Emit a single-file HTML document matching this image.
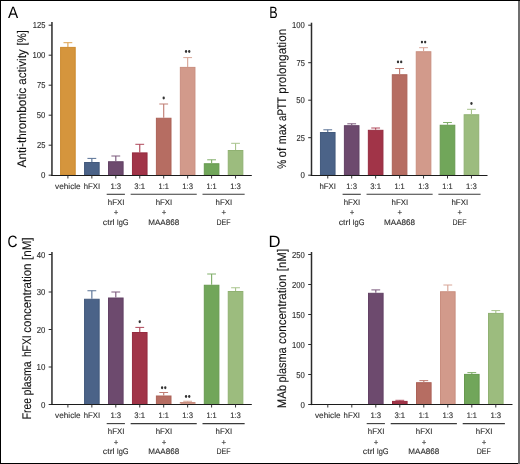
<!DOCTYPE html>
<html><head><meta charset="utf-8"><title>Figure</title>
<style>
html,body{margin:0;padding:0;background:#fff;width:520px;height:464px;overflow:hidden;}
svg{display:block;will-change:transform;}
text{font-family:"Liberation Sans",sans-serif;text-rendering:geometricPrecision;}
</style></head><body>
<svg width="520" height="464" viewBox="0 0 520 464">
<rect x="0" y="0" width="520" height="464" fill="#fff"/>
<line x1="51.95" y1="22.00" x2="51.95" y2="175.80" stroke="#2b2b2b" stroke-width="1.5"/>
<line x1="48.65" y1="25.20" x2="51.95" y2="25.20" stroke="#2b2b2b" stroke-width="1"/>
<text x="45.40" y="28.20" font-size="8.7" text-anchor="end" fill="#303030" stroke="#303030" stroke-width="0.12" textLength="12.6" lengthAdjust="spacingAndGlyphs">125</text>
<line x1="48.65" y1="55.20" x2="51.95" y2="55.20" stroke="#2b2b2b" stroke-width="1"/>
<text x="45.40" y="58.20" font-size="8.7" text-anchor="end" fill="#303030" stroke="#303030" stroke-width="0.12" textLength="13.0" lengthAdjust="spacingAndGlyphs">100</text>
<line x1="48.65" y1="85.20" x2="51.95" y2="85.20" stroke="#2b2b2b" stroke-width="1"/>
<text x="45.40" y="88.20" font-size="8.7" text-anchor="end" fill="#303030" stroke="#303030" stroke-width="0.12" textLength="8.4" lengthAdjust="spacingAndGlyphs">75</text>
<line x1="48.65" y1="115.20" x2="51.95" y2="115.20" stroke="#2b2b2b" stroke-width="1"/>
<text x="45.40" y="118.20" font-size="8.7" text-anchor="end" fill="#303030" stroke="#303030" stroke-width="0.12" textLength="8.6" lengthAdjust="spacingAndGlyphs">50</text>
<line x1="48.65" y1="145.20" x2="51.95" y2="145.20" stroke="#2b2b2b" stroke-width="1"/>
<text x="45.40" y="148.20" font-size="8.7" text-anchor="end" fill="#303030" stroke="#303030" stroke-width="0.12" textLength="8.4" lengthAdjust="spacingAndGlyphs">25</text>
<line x1="48.65" y1="175.20" x2="51.95" y2="175.20" stroke="#2b2b2b" stroke-width="1"/>
<text x="45.40" y="178.20" font-size="8.7" text-anchor="end" fill="#303030" stroke="#303030" stroke-width="0.12" textLength="4.4" lengthAdjust="spacingAndGlyphs">0</text>
<rect x="60.60" y="47.40" width="14.60" height="127.80" fill="#D5953D" stroke="#CC8A30" stroke-width="1"/>
<line x1="67.90" y1="42.70" x2="67.90" y2="46.90" stroke="#DDA250" stroke-width="1.15"/>
<line x1="63.50" y1="42.70" x2="72.30" y2="42.70" stroke="#DDA250" stroke-width="1.0"/>
<rect x="84.55" y="162.50" width="14.60" height="12.70" fill="#4B6388" stroke="#435A7D" stroke-width="1"/>
<line x1="91.85" y1="158.40" x2="91.85" y2="162.00" stroke="#5A7396" stroke-width="1.15"/>
<line x1="87.45" y1="158.40" x2="96.25" y2="158.40" stroke="#5A7396" stroke-width="1.0"/>
<rect x="108.50" y="161.75" width="14.60" height="13.45" fill="#6D4A6E" stroke="#634265" stroke-width="1"/>
<line x1="115.80" y1="156.00" x2="115.80" y2="161.25" stroke="#7C5A7D" stroke-width="1.15"/>
<line x1="111.40" y1="156.00" x2="120.20" y2="156.00" stroke="#7C5A7D" stroke-width="1.0"/>
<rect x="132.45" y="152.90" width="14.60" height="22.30" fill="#A13448" stroke="#962C40" stroke-width="1"/>
<line x1="139.75" y1="144.30" x2="139.75" y2="152.40" stroke="#B0485A" stroke-width="1.15"/>
<line x1="135.35" y1="144.30" x2="144.15" y2="144.30" stroke="#B0485A" stroke-width="1.0"/>
<rect x="156.40" y="118.25" width="14.60" height="56.95" fill="#B66D62" stroke="#AC6257" stroke-width="1"/>
<line x1="163.70" y1="104.00" x2="163.70" y2="117.75" stroke="#C07E74" stroke-width="1.15"/>
<line x1="159.30" y1="104.00" x2="168.10" y2="104.00" stroke="#C07E74" stroke-width="1.0"/>
<rect x="180.35" y="67.40" width="14.60" height="107.80" fill="#D29A8B" stroke="#C98E7F" stroke-width="1"/>
<line x1="187.65" y1="57.60" x2="187.65" y2="66.90" stroke="#D8A698" stroke-width="1.15"/>
<line x1="183.25" y1="57.60" x2="192.05" y2="57.60" stroke="#D8A698" stroke-width="1.0"/>
<rect x="204.30" y="163.75" width="14.60" height="11.45" fill="#71A65A" stroke="#67994F" stroke-width="1"/>
<line x1="211.60" y1="159.80" x2="211.60" y2="163.25" stroke="#82B06C" stroke-width="1.15"/>
<line x1="207.20" y1="159.80" x2="216.00" y2="159.80" stroke="#82B06C" stroke-width="1.0"/>
<rect x="228.25" y="150.50" width="14.60" height="24.70" fill="#9CBC7E" stroke="#90B172" stroke-width="1"/>
<line x1="235.55" y1="143.30" x2="235.55" y2="150.00" stroke="#A8C48C" stroke-width="1.15"/>
<line x1="231.15" y1="143.30" x2="239.95" y2="143.30" stroke="#A8C48C" stroke-width="1.0"/>
<line x1="51.20" y1="175.50" x2="251.80" y2="175.50" stroke="#1c1c1c" stroke-width="1.1"/>
<line x1="67.90" y1="175.50" x2="67.90" y2="178.50" stroke="#333" stroke-width="1"/>
<line x1="91.85" y1="175.50" x2="91.85" y2="178.50" stroke="#333" stroke-width="1"/>
<line x1="115.80" y1="175.50" x2="115.80" y2="178.50" stroke="#333" stroke-width="1"/>
<line x1="139.75" y1="175.50" x2="139.75" y2="178.50" stroke="#333" stroke-width="1"/>
<line x1="163.70" y1="175.50" x2="163.70" y2="178.50" stroke="#333" stroke-width="1"/>
<line x1="187.65" y1="175.50" x2="187.65" y2="178.50" stroke="#333" stroke-width="1"/>
<line x1="211.60" y1="175.50" x2="211.60" y2="178.50" stroke="#333" stroke-width="1"/>
<line x1="235.55" y1="175.50" x2="235.55" y2="178.50" stroke="#333" stroke-width="1"/>
<ellipse cx="163.70" cy="98.00" rx="1.15" ry="1.45" fill="#333"/>
<ellipse cx="186.05" cy="51.50" rx="1.15" ry="1.45" fill="#333"/>
<ellipse cx="189.25" cy="51.50" rx="1.15" ry="1.45" fill="#333"/>
<text x="67.90" y="189.00" font-size="8.1" text-anchor="middle" fill="#303030" stroke="#303030" stroke-width="0.12" textLength="25.6" lengthAdjust="spacingAndGlyphs">vehicle</text>
<text x="91.85" y="189.00" font-size="8.1" text-anchor="middle" fill="#303030" stroke="#303030" stroke-width="0.12" textLength="16.4" lengthAdjust="spacingAndGlyphs">hFXI</text>
<text x="115.80" y="189.00" font-size="8.1" text-anchor="middle" fill="#303030" stroke="#303030" stroke-width="0.12" textLength="10.8" lengthAdjust="spacingAndGlyphs">1:3</text>
<text x="139.75" y="189.00" font-size="8.1" text-anchor="middle" fill="#303030" stroke="#303030" stroke-width="0.12" textLength="10.8" lengthAdjust="spacingAndGlyphs">3:1</text>
<text x="163.70" y="189.00" font-size="8.1" text-anchor="middle" fill="#303030" stroke="#303030" stroke-width="0.12" textLength="10.3" lengthAdjust="spacingAndGlyphs">1:1</text>
<text x="187.65" y="189.00" font-size="8.1" text-anchor="middle" fill="#303030" stroke="#303030" stroke-width="0.12" textLength="10.8" lengthAdjust="spacingAndGlyphs">1:3</text>
<text x="211.60" y="189.00" font-size="8.1" text-anchor="middle" fill="#303030" stroke="#303030" stroke-width="0.12" textLength="10.3" lengthAdjust="spacingAndGlyphs">1:1</text>
<text x="235.55" y="189.00" font-size="8.1" text-anchor="middle" fill="#303030" stroke="#303030" stroke-width="0.12" textLength="10.8" lengthAdjust="spacingAndGlyphs">1:3</text>
<line x1="106.70" y1="194.30" x2="124.90" y2="194.30" stroke="#3a3a3a" stroke-width="1.1"/>
<text x="116.10" y="204.60" font-size="8.1" text-anchor="middle" fill="#303030" stroke="#303030" stroke-width="0.12" textLength="16.6" lengthAdjust="spacingAndGlyphs">hFXI</text>
<text x="116.10" y="214.90" font-size="8.1" text-anchor="middle" fill="#303030" stroke="#303030" stroke-width="0.12" textLength="4.6" lengthAdjust="spacingAndGlyphs">+</text>
<text x="102.80" y="225.10" font-size="8.1" fill="#303030" stroke="#303030" stroke-width="0.12" textLength="11.80" lengthAdjust="spacingAndGlyphs">ctrl</text>
<text x="116.63" y="225.10" font-size="8.1" fill="#303030" stroke="#303030" stroke-width="0.12" textLength="12.01" lengthAdjust="spacingAndGlyphs">IgG</text>
<line x1="130.65" y1="194.30" x2="196.75" y2="194.30" stroke="#3a3a3a" stroke-width="1.1"/>
<text x="164.00" y="204.60" font-size="8.1" text-anchor="middle" fill="#303030" stroke="#303030" stroke-width="0.12" textLength="16.6" lengthAdjust="spacingAndGlyphs">hFXI</text>
<text x="164.00" y="214.90" font-size="8.1" text-anchor="middle" fill="#303030" stroke="#303030" stroke-width="0.12" textLength="4.6" lengthAdjust="spacingAndGlyphs">+</text>
<text x="163.70" y="225.10" font-size="8.1" text-anchor="middle" fill="#303030" stroke="#303030" stroke-width="0.12" textLength="31" lengthAdjust="spacingAndGlyphs">MAA868</text>
<line x1="202.50" y1="194.30" x2="244.65" y2="194.30" stroke="#3a3a3a" stroke-width="1.1"/>
<text x="223.88" y="204.60" font-size="8.1" text-anchor="middle" fill="#303030" stroke="#303030" stroke-width="0.12" textLength="16.6" lengthAdjust="spacingAndGlyphs">hFXI</text>
<text x="223.88" y="214.90" font-size="8.1" text-anchor="middle" fill="#303030" stroke="#303030" stroke-width="0.12" textLength="4.6" lengthAdjust="spacingAndGlyphs">+</text>
<text x="223.57" y="225.10" font-size="8.1" text-anchor="middle" fill="#303030" stroke="#303030" stroke-width="0.12" textLength="14" lengthAdjust="spacingAndGlyphs">DEF</text>
<text transform="translate(26.00,167.40) rotate(-90)" x="-0.06" y="0" font-size="12.5" fill="#111" stroke="#111" stroke-width="0.1" textLength="79.75" lengthAdjust="spacingAndGlyphs">Anti-thrombotic</text>
<text transform="translate(26.00,84.30) rotate(-90)" x="-0.52" y="0" font-size="12.5" fill="#111" stroke="#111" stroke-width="0.1" textLength="35.49" lengthAdjust="spacingAndGlyphs">activity</text>
<text transform="translate(26.00,44.80) rotate(-90)" x="-0.73" y="0" font-size="12.5" fill="#111" stroke="#111" stroke-width="0.1" textLength="15.11" lengthAdjust="spacingAndGlyphs">[%]</text>
<text x="13.00" y="17.70" font-size="16.5" text-anchor="middle" fill="#000" textLength="10.2" lengthAdjust="spacingAndGlyphs">A</text>
<line x1="311.50" y1="22.70" x2="311.50" y2="175.80" stroke="#2b2b2b" stroke-width="1.5"/>
<line x1="308.20" y1="25.20" x2="311.50" y2="25.20" stroke="#2b2b2b" stroke-width="1"/>
<text x="304.90" y="28.20" font-size="8.7" text-anchor="end" fill="#303030" stroke="#303030" stroke-width="0.12" textLength="12.8" lengthAdjust="spacingAndGlyphs">100</text>
<line x1="308.20" y1="62.70" x2="311.50" y2="62.70" stroke="#2b2b2b" stroke-width="1"/>
<text x="304.90" y="65.70" font-size="8.7" text-anchor="end" fill="#303030" stroke="#303030" stroke-width="0.12" textLength="8.4" lengthAdjust="spacingAndGlyphs">75</text>
<line x1="308.20" y1="100.20" x2="311.50" y2="100.20" stroke="#2b2b2b" stroke-width="1"/>
<text x="304.90" y="103.20" font-size="8.7" text-anchor="end" fill="#303030" stroke="#303030" stroke-width="0.12" textLength="8.6" lengthAdjust="spacingAndGlyphs">50</text>
<line x1="308.20" y1="137.70" x2="311.50" y2="137.70" stroke="#2b2b2b" stroke-width="1"/>
<text x="304.90" y="140.70" font-size="8.7" text-anchor="end" fill="#303030" stroke="#303030" stroke-width="0.12" textLength="8.4" lengthAdjust="spacingAndGlyphs">25</text>
<line x1="308.20" y1="175.20" x2="311.50" y2="175.20" stroke="#2b2b2b" stroke-width="1"/>
<text x="304.90" y="178.20" font-size="8.7" text-anchor="end" fill="#303030" stroke="#303030" stroke-width="0.12" textLength="4.4" lengthAdjust="spacingAndGlyphs">0</text>
<rect x="320.45" y="132.50" width="14.60" height="42.70" fill="#4B6388" stroke="#435A7D" stroke-width="1"/>
<line x1="327.75" y1="129.80" x2="327.75" y2="132.00" stroke="#5A7396" stroke-width="1.15"/>
<line x1="323.35" y1="129.80" x2="332.15" y2="129.80" stroke="#5A7396" stroke-width="1.0"/>
<rect x="344.40" y="125.70" width="14.60" height="49.50" fill="#6D4A6E" stroke="#634265" stroke-width="1"/>
<line x1="351.70" y1="123.80" x2="351.70" y2="125.20" stroke="#7C5A7D" stroke-width="1.15"/>
<line x1="347.30" y1="123.80" x2="356.10" y2="123.80" stroke="#7C5A7D" stroke-width="1.0"/>
<rect x="368.35" y="130.30" width="14.60" height="44.90" fill="#A13448" stroke="#962C40" stroke-width="1"/>
<line x1="375.65" y1="128.00" x2="375.65" y2="129.80" stroke="#B0485A" stroke-width="1.15"/>
<line x1="371.25" y1="128.00" x2="380.05" y2="128.00" stroke="#B0485A" stroke-width="1.0"/>
<rect x="392.30" y="74.75" width="14.60" height="100.45" fill="#B66D62" stroke="#AC6257" stroke-width="1"/>
<line x1="399.60" y1="68.50" x2="399.60" y2="74.25" stroke="#C07E74" stroke-width="1.15"/>
<line x1="395.20" y1="68.50" x2="404.00" y2="68.50" stroke="#C07E74" stroke-width="1.0"/>
<rect x="416.25" y="51.75" width="14.60" height="123.45" fill="#D29A8B" stroke="#C98E7F" stroke-width="1"/>
<line x1="423.55" y1="47.70" x2="423.55" y2="51.25" stroke="#D8A698" stroke-width="1.15"/>
<line x1="419.15" y1="47.70" x2="427.95" y2="47.70" stroke="#D8A698" stroke-width="1.0"/>
<rect x="440.20" y="125.25" width="14.60" height="49.95" fill="#71A65A" stroke="#67994F" stroke-width="1"/>
<line x1="447.50" y1="122.50" x2="447.50" y2="124.75" stroke="#82B06C" stroke-width="1.15"/>
<line x1="443.10" y1="122.50" x2="451.90" y2="122.50" stroke="#82B06C" stroke-width="1.0"/>
<rect x="464.15" y="114.75" width="14.60" height="60.45" fill="#9CBC7E" stroke="#90B172" stroke-width="1"/>
<line x1="471.45" y1="109.30" x2="471.45" y2="114.25" stroke="#A8C48C" stroke-width="1.15"/>
<line x1="467.05" y1="109.30" x2="475.85" y2="109.30" stroke="#A8C48C" stroke-width="1.0"/>
<line x1="310.75" y1="175.50" x2="487.50" y2="175.50" stroke="#1c1c1c" stroke-width="1.1"/>
<line x1="327.75" y1="175.50" x2="327.75" y2="178.50" stroke="#333" stroke-width="1"/>
<line x1="351.70" y1="175.50" x2="351.70" y2="178.50" stroke="#333" stroke-width="1"/>
<line x1="375.65" y1="175.50" x2="375.65" y2="178.50" stroke="#333" stroke-width="1"/>
<line x1="399.60" y1="175.50" x2="399.60" y2="178.50" stroke="#333" stroke-width="1"/>
<line x1="423.55" y1="175.50" x2="423.55" y2="178.50" stroke="#333" stroke-width="1"/>
<line x1="447.50" y1="175.50" x2="447.50" y2="178.50" stroke="#333" stroke-width="1"/>
<line x1="471.45" y1="175.50" x2="471.45" y2="178.50" stroke="#333" stroke-width="1"/>
<ellipse cx="398.00" cy="61.90" rx="1.15" ry="1.45" fill="#333"/>
<ellipse cx="401.20" cy="61.90" rx="1.15" ry="1.45" fill="#333"/>
<ellipse cx="421.95" cy="42.10" rx="1.15" ry="1.45" fill="#333"/>
<ellipse cx="425.15" cy="42.10" rx="1.15" ry="1.45" fill="#333"/>
<ellipse cx="471.45" cy="103.50" rx="1.15" ry="1.45" fill="#333"/>
<text x="327.75" y="189.00" font-size="8.1" text-anchor="middle" fill="#303030" stroke="#303030" stroke-width="0.12" textLength="16.4" lengthAdjust="spacingAndGlyphs">hFXI</text>
<text x="351.70" y="189.00" font-size="8.1" text-anchor="middle" fill="#303030" stroke="#303030" stroke-width="0.12" textLength="10.8" lengthAdjust="spacingAndGlyphs">1:3</text>
<text x="375.65" y="189.00" font-size="8.1" text-anchor="middle" fill="#303030" stroke="#303030" stroke-width="0.12" textLength="10.8" lengthAdjust="spacingAndGlyphs">3:1</text>
<text x="399.60" y="189.00" font-size="8.1" text-anchor="middle" fill="#303030" stroke="#303030" stroke-width="0.12" textLength="10.3" lengthAdjust="spacingAndGlyphs">1:1</text>
<text x="423.55" y="189.00" font-size="8.1" text-anchor="middle" fill="#303030" stroke="#303030" stroke-width="0.12" textLength="10.8" lengthAdjust="spacingAndGlyphs">1:3</text>
<text x="447.50" y="189.00" font-size="8.1" text-anchor="middle" fill="#303030" stroke="#303030" stroke-width="0.12" textLength="10.3" lengthAdjust="spacingAndGlyphs">1:1</text>
<text x="471.45" y="189.00" font-size="8.1" text-anchor="middle" fill="#303030" stroke="#303030" stroke-width="0.12" textLength="10.8" lengthAdjust="spacingAndGlyphs">1:3</text>
<line x1="342.60" y1="194.30" x2="360.80" y2="194.30" stroke="#3a3a3a" stroke-width="1.1"/>
<text x="352.00" y="204.60" font-size="8.1" text-anchor="middle" fill="#303030" stroke="#303030" stroke-width="0.12" textLength="16.6" lengthAdjust="spacingAndGlyphs">hFXI</text>
<text x="352.00" y="214.90" font-size="8.1" text-anchor="middle" fill="#303030" stroke="#303030" stroke-width="0.12" textLength="4.6" lengthAdjust="spacingAndGlyphs">+</text>
<text x="338.70" y="225.10" font-size="8.1" fill="#303030" stroke="#303030" stroke-width="0.12" textLength="11.80" lengthAdjust="spacingAndGlyphs">ctrl</text>
<text x="352.53" y="225.10" font-size="8.1" fill="#303030" stroke="#303030" stroke-width="0.12" textLength="12.01" lengthAdjust="spacingAndGlyphs">IgG</text>
<line x1="366.55" y1="194.30" x2="432.65" y2="194.30" stroke="#3a3a3a" stroke-width="1.1"/>
<text x="399.90" y="204.60" font-size="8.1" text-anchor="middle" fill="#303030" stroke="#303030" stroke-width="0.12" textLength="16.6" lengthAdjust="spacingAndGlyphs">hFXI</text>
<text x="399.90" y="214.90" font-size="8.1" text-anchor="middle" fill="#303030" stroke="#303030" stroke-width="0.12" textLength="4.6" lengthAdjust="spacingAndGlyphs">+</text>
<text x="399.60" y="225.10" font-size="8.1" text-anchor="middle" fill="#303030" stroke="#303030" stroke-width="0.12" textLength="31" lengthAdjust="spacingAndGlyphs">MAA868</text>
<line x1="438.40" y1="194.30" x2="480.55" y2="194.30" stroke="#3a3a3a" stroke-width="1.1"/>
<text x="459.78" y="204.60" font-size="8.1" text-anchor="middle" fill="#303030" stroke="#303030" stroke-width="0.12" textLength="16.6" lengthAdjust="spacingAndGlyphs">hFXI</text>
<text x="459.78" y="214.90" font-size="8.1" text-anchor="middle" fill="#303030" stroke="#303030" stroke-width="0.12" textLength="4.6" lengthAdjust="spacingAndGlyphs">+</text>
<text x="459.48" y="225.10" font-size="8.1" text-anchor="middle" fill="#303030" stroke="#303030" stroke-width="0.12" textLength="14" lengthAdjust="spacingAndGlyphs">DEF</text>
<text transform="translate(286.00,168.50) rotate(-90)" x="-0.35" y="0" font-size="12.5" fill="#111" stroke="#111" stroke-width="0.1" textLength="8.89" lengthAdjust="spacingAndGlyphs">%</text>
<text transform="translate(286.00,157.00) rotate(-90)" x="-0.47" y="0" font-size="12.5" fill="#111" stroke="#111" stroke-width="0.1" textLength="9.86" lengthAdjust="spacingAndGlyphs">of</text>
<text transform="translate(286.00,143.50) rotate(-90)" x="-0.69" y="0" font-size="12.5" fill="#111" stroke="#111" stroke-width="0.1" textLength="20.09" lengthAdjust="spacingAndGlyphs">max</text>
<text transform="translate(286.00,120.50) rotate(-90)" x="-0.43" y="0" font-size="12.5" fill="#111" stroke="#111" stroke-width="0.1" textLength="23.52" lengthAdjust="spacingAndGlyphs">aPTT</text>
<text transform="translate(286.00,92.90) rotate(-90)" x="-0.77" y="0" font-size="12.5" fill="#111" stroke="#111" stroke-width="0.1" textLength="64.93" lengthAdjust="spacingAndGlyphs">prolongation</text>
<text x="273.40" y="17.70" font-size="16.5" text-anchor="middle" fill="#000" textLength="8.4" lengthAdjust="spacingAndGlyphs">B</text>
<line x1="51.95" y1="252.00" x2="51.95" y2="405.10" stroke="#2b2b2b" stroke-width="1.5"/>
<line x1="48.65" y1="254.50" x2="51.95" y2="254.50" stroke="#2b2b2b" stroke-width="1"/>
<text x="45.40" y="257.50" font-size="8.7" text-anchor="end" fill="#303030" stroke="#303030" stroke-width="0.12" textLength="8.6" lengthAdjust="spacingAndGlyphs">40</text>
<line x1="48.65" y1="292.00" x2="51.95" y2="292.00" stroke="#2b2b2b" stroke-width="1"/>
<text x="45.40" y="295.00" font-size="8.7" text-anchor="end" fill="#303030" stroke="#303030" stroke-width="0.12" textLength="8.6" lengthAdjust="spacingAndGlyphs">30</text>
<line x1="48.65" y1="329.50" x2="51.95" y2="329.50" stroke="#2b2b2b" stroke-width="1"/>
<text x="45.40" y="332.50" font-size="8.7" text-anchor="end" fill="#303030" stroke="#303030" stroke-width="0.12" textLength="8.6" lengthAdjust="spacingAndGlyphs">20</text>
<line x1="48.65" y1="367.00" x2="51.95" y2="367.00" stroke="#2b2b2b" stroke-width="1"/>
<text x="45.40" y="370.00" font-size="8.7" text-anchor="end" fill="#303030" stroke="#303030" stroke-width="0.12" textLength="8.8" lengthAdjust="spacingAndGlyphs">10</text>
<line x1="48.65" y1="404.50" x2="51.95" y2="404.50" stroke="#2b2b2b" stroke-width="1"/>
<text x="45.40" y="407.50" font-size="8.7" text-anchor="end" fill="#303030" stroke="#303030" stroke-width="0.12" textLength="4.4" lengthAdjust="spacingAndGlyphs">0</text>
<rect x="84.55" y="299.25" width="14.60" height="105.25" fill="#4B6388" stroke="#435A7D" stroke-width="1"/>
<line x1="91.85" y1="290.75" x2="91.85" y2="298.75" stroke="#5A7396" stroke-width="1.15"/>
<line x1="87.45" y1="290.75" x2="96.25" y2="290.75" stroke="#5A7396" stroke-width="1.0"/>
<rect x="108.50" y="298.00" width="14.60" height="106.50" fill="#6D4A6E" stroke="#634265" stroke-width="1"/>
<line x1="115.80" y1="292.00" x2="115.80" y2="297.50" stroke="#7C5A7D" stroke-width="1.15"/>
<line x1="111.40" y1="292.00" x2="120.20" y2="292.00" stroke="#7C5A7D" stroke-width="1.0"/>
<rect x="132.45" y="332.50" width="14.60" height="72.00" fill="#A13448" stroke="#962C40" stroke-width="1"/>
<line x1="139.75" y1="327.40" x2="139.75" y2="332.00" stroke="#B0485A" stroke-width="1.15"/>
<line x1="135.35" y1="327.40" x2="144.15" y2="327.40" stroke="#B0485A" stroke-width="1.0"/>
<rect x="156.40" y="396.00" width="14.60" height="8.50" fill="#B66D62" stroke="#AC6257" stroke-width="1"/>
<line x1="163.70" y1="392.50" x2="163.70" y2="395.50" stroke="#C07E74" stroke-width="1.15"/>
<line x1="159.30" y1="392.50" x2="168.10" y2="392.50" stroke="#C07E74" stroke-width="1.0"/>
<rect x="180.35" y="402.50" width="14.60" height="2.00" fill="#D29A8B" stroke="#C98E7F" stroke-width="1"/>
<line x1="187.65" y1="401.25" x2="187.65" y2="402.00" stroke="#D8A698" stroke-width="1.15"/>
<line x1="183.25" y1="401.25" x2="192.05" y2="401.25" stroke="#D8A698" stroke-width="1.0"/>
<rect x="204.30" y="285.25" width="14.60" height="119.25" fill="#71A65A" stroke="#67994F" stroke-width="1"/>
<line x1="211.60" y1="274.00" x2="211.60" y2="284.75" stroke="#82B06C" stroke-width="1.15"/>
<line x1="207.20" y1="274.00" x2="216.00" y2="274.00" stroke="#82B06C" stroke-width="1.0"/>
<rect x="228.25" y="291.50" width="14.60" height="113.00" fill="#9CBC7E" stroke="#90B172" stroke-width="1"/>
<line x1="235.55" y1="287.75" x2="235.55" y2="291.00" stroke="#A8C48C" stroke-width="1.15"/>
<line x1="231.15" y1="287.75" x2="239.95" y2="287.75" stroke="#A8C48C" stroke-width="1.0"/>
<line x1="51.20" y1="404.50" x2="251.80" y2="404.50" stroke="#1c1c1c" stroke-width="1.1"/>
<line x1="67.90" y1="404.50" x2="67.90" y2="407.50" stroke="#333" stroke-width="1"/>
<line x1="91.85" y1="404.50" x2="91.85" y2="407.50" stroke="#333" stroke-width="1"/>
<line x1="115.80" y1="404.50" x2="115.80" y2="407.50" stroke="#333" stroke-width="1"/>
<line x1="139.75" y1="404.50" x2="139.75" y2="407.50" stroke="#333" stroke-width="1"/>
<line x1="163.70" y1="404.50" x2="163.70" y2="407.50" stroke="#333" stroke-width="1"/>
<line x1="187.65" y1="404.50" x2="187.65" y2="407.50" stroke="#333" stroke-width="1"/>
<line x1="211.60" y1="404.50" x2="211.60" y2="407.50" stroke="#333" stroke-width="1"/>
<line x1="235.55" y1="404.50" x2="235.55" y2="407.50" stroke="#333" stroke-width="1"/>
<ellipse cx="139.75" cy="321.70" rx="1.15" ry="1.45" fill="#333"/>
<ellipse cx="162.10" cy="387.80" rx="1.15" ry="1.45" fill="#333"/>
<ellipse cx="165.30" cy="387.80" rx="1.15" ry="1.45" fill="#333"/>
<ellipse cx="186.05" cy="396.50" rx="1.15" ry="1.45" fill="#333"/>
<ellipse cx="189.25" cy="396.50" rx="1.15" ry="1.45" fill="#333"/>
<text x="67.90" y="418.30" font-size="8.1" text-anchor="middle" fill="#303030" stroke="#303030" stroke-width="0.12" textLength="25.6" lengthAdjust="spacingAndGlyphs">vehicle</text>
<text x="91.85" y="418.30" font-size="8.1" text-anchor="middle" fill="#303030" stroke="#303030" stroke-width="0.12" textLength="16.4" lengthAdjust="spacingAndGlyphs">hFXI</text>
<text x="115.80" y="418.30" font-size="8.1" text-anchor="middle" fill="#303030" stroke="#303030" stroke-width="0.12" textLength="10.8" lengthAdjust="spacingAndGlyphs">1:3</text>
<text x="139.75" y="418.30" font-size="8.1" text-anchor="middle" fill="#303030" stroke="#303030" stroke-width="0.12" textLength="10.8" lengthAdjust="spacingAndGlyphs">3:1</text>
<text x="163.70" y="418.30" font-size="8.1" text-anchor="middle" fill="#303030" stroke="#303030" stroke-width="0.12" textLength="10.3" lengthAdjust="spacingAndGlyphs">1:1</text>
<text x="187.65" y="418.30" font-size="8.1" text-anchor="middle" fill="#303030" stroke="#303030" stroke-width="0.12" textLength="10.8" lengthAdjust="spacingAndGlyphs">1:3</text>
<text x="211.60" y="418.30" font-size="8.1" text-anchor="middle" fill="#303030" stroke="#303030" stroke-width="0.12" textLength="10.3" lengthAdjust="spacingAndGlyphs">1:1</text>
<text x="235.55" y="418.30" font-size="8.1" text-anchor="middle" fill="#303030" stroke="#303030" stroke-width="0.12" textLength="10.8" lengthAdjust="spacingAndGlyphs">1:3</text>
<line x1="106.70" y1="423.60" x2="124.90" y2="423.60" stroke="#3a3a3a" stroke-width="1.1"/>
<text x="116.10" y="433.90" font-size="8.1" text-anchor="middle" fill="#303030" stroke="#303030" stroke-width="0.12" textLength="16.6" lengthAdjust="spacingAndGlyphs">hFXI</text>
<text x="116.10" y="444.70" font-size="8.1" text-anchor="middle" fill="#303030" stroke="#303030" stroke-width="0.12" textLength="4.6" lengthAdjust="spacingAndGlyphs">+</text>
<text x="102.80" y="454.40" font-size="8.1" fill="#303030" stroke="#303030" stroke-width="0.12" textLength="11.80" lengthAdjust="spacingAndGlyphs">ctrl</text>
<text x="116.63" y="454.40" font-size="8.1" fill="#303030" stroke="#303030" stroke-width="0.12" textLength="12.01" lengthAdjust="spacingAndGlyphs">IgG</text>
<line x1="130.65" y1="423.60" x2="196.75" y2="423.60" stroke="#3a3a3a" stroke-width="1.1"/>
<text x="164.00" y="433.90" font-size="8.1" text-anchor="middle" fill="#303030" stroke="#303030" stroke-width="0.12" textLength="16.6" lengthAdjust="spacingAndGlyphs">hFXI</text>
<text x="164.00" y="444.70" font-size="8.1" text-anchor="middle" fill="#303030" stroke="#303030" stroke-width="0.12" textLength="4.6" lengthAdjust="spacingAndGlyphs">+</text>
<text x="163.70" y="454.40" font-size="8.1" text-anchor="middle" fill="#303030" stroke="#303030" stroke-width="0.12" textLength="31" lengthAdjust="spacingAndGlyphs">MAA868</text>
<line x1="202.50" y1="423.60" x2="244.65" y2="423.60" stroke="#3a3a3a" stroke-width="1.1"/>
<text x="223.88" y="433.90" font-size="8.1" text-anchor="middle" fill="#303030" stroke="#303030" stroke-width="0.12" textLength="16.6" lengthAdjust="spacingAndGlyphs">hFXI</text>
<text x="223.88" y="444.70" font-size="8.1" text-anchor="middle" fill="#303030" stroke="#303030" stroke-width="0.12" textLength="4.6" lengthAdjust="spacingAndGlyphs">+</text>
<text x="223.57" y="454.40" font-size="8.1" text-anchor="middle" fill="#303030" stroke="#303030" stroke-width="0.12" textLength="14" lengthAdjust="spacingAndGlyphs">DEF</text>
<text transform="translate(30.60,418.50) rotate(-90)" x="-0.82" y="0" font-size="12.5" fill="#111" stroke="#111" stroke-width="0.1" textLength="21.20" lengthAdjust="spacingAndGlyphs">Free</text>
<text transform="translate(30.60,394.70) rotate(-90)" x="-0.69" y="0" font-size="12.5" fill="#111" stroke="#111" stroke-width="0.1" textLength="34.07" lengthAdjust="spacingAndGlyphs">plasma</text>
<text transform="translate(30.60,356.40) rotate(-90)" x="-0.72" y="0" font-size="12.5" fill="#111" stroke="#111" stroke-width="0.1" textLength="21.77" lengthAdjust="spacingAndGlyphs">hFXI</text>
<text transform="translate(30.60,332.20) rotate(-90)" x="-0.52" y="0" font-size="12.5" fill="#111" stroke="#111" stroke-width="0.1" textLength="69.26" lengthAdjust="spacingAndGlyphs">concentration</text>
<text transform="translate(30.60,259.20) rotate(-90)" x="-0.81" y="0" font-size="12.5" fill="#111" stroke="#111" stroke-width="0.1" textLength="22.58" lengthAdjust="spacingAndGlyphs">[nM]</text>
<text x="12.60" y="247.00" font-size="16.5" text-anchor="middle" fill="#000" textLength="10" lengthAdjust="spacingAndGlyphs">C</text>
<line x1="311.50" y1="252.00" x2="311.50" y2="405.10" stroke="#2b2b2b" stroke-width="1.5"/>
<line x1="308.20" y1="254.50" x2="311.50" y2="254.50" stroke="#2b2b2b" stroke-width="1"/>
<text x="304.90" y="257.50" font-size="8.7" text-anchor="end" fill="#303030" stroke="#303030" stroke-width="0.12" textLength="12.8" lengthAdjust="spacingAndGlyphs">250</text>
<line x1="308.20" y1="284.50" x2="311.50" y2="284.50" stroke="#2b2b2b" stroke-width="1"/>
<text x="304.90" y="287.50" font-size="8.7" text-anchor="end" fill="#303030" stroke="#303030" stroke-width="0.12" textLength="12.8" lengthAdjust="spacingAndGlyphs">200</text>
<line x1="308.20" y1="314.50" x2="311.50" y2="314.50" stroke="#2b2b2b" stroke-width="1"/>
<text x="304.90" y="317.50" font-size="8.7" text-anchor="end" fill="#303030" stroke="#303030" stroke-width="0.12" textLength="12.8" lengthAdjust="spacingAndGlyphs">150</text>
<line x1="308.20" y1="344.50" x2="311.50" y2="344.50" stroke="#2b2b2b" stroke-width="1"/>
<text x="304.90" y="347.50" font-size="8.7" text-anchor="end" fill="#303030" stroke="#303030" stroke-width="0.12" textLength="12.8" lengthAdjust="spacingAndGlyphs">100</text>
<line x1="308.20" y1="374.50" x2="311.50" y2="374.50" stroke="#2b2b2b" stroke-width="1"/>
<text x="304.90" y="377.50" font-size="8.7" text-anchor="end" fill="#303030" stroke="#303030" stroke-width="0.12" textLength="8.6" lengthAdjust="spacingAndGlyphs">50</text>
<line x1="308.20" y1="404.50" x2="311.50" y2="404.50" stroke="#2b2b2b" stroke-width="1"/>
<text x="304.90" y="407.50" font-size="8.7" text-anchor="end" fill="#303030" stroke="#303030" stroke-width="0.12" textLength="4.4" lengthAdjust="spacingAndGlyphs">0</text>
<rect x="368.50" y="293.30" width="14.60" height="111.20" fill="#6D4A6E" stroke="#634265" stroke-width="1"/>
<line x1="375.80" y1="289.90" x2="375.80" y2="292.80" stroke="#7C5A7D" stroke-width="1.15"/>
<line x1="371.40" y1="289.90" x2="380.20" y2="289.90" stroke="#7C5A7D" stroke-width="1.0"/>
<rect x="392.50" y="401.40" width="14.60" height="3.10" fill="#A13448" stroke="#962C40" stroke-width="1"/>
<line x1="399.80" y1="400.30" x2="399.80" y2="400.90" stroke="#B0485A" stroke-width="1.15"/>
<line x1="395.40" y1="400.30" x2="404.20" y2="400.30" stroke="#B0485A" stroke-width="1.0"/>
<rect x="416.50" y="382.70" width="14.60" height="21.80" fill="#B66D62" stroke="#AC6257" stroke-width="1"/>
<line x1="423.80" y1="380.60" x2="423.80" y2="382.20" stroke="#C07E74" stroke-width="1.15"/>
<line x1="419.40" y1="380.60" x2="428.20" y2="380.60" stroke="#C07E74" stroke-width="1.0"/>
<rect x="440.50" y="291.75" width="14.60" height="112.75" fill="#D29A8B" stroke="#C98E7F" stroke-width="1"/>
<line x1="447.80" y1="285.00" x2="447.80" y2="291.25" stroke="#D8A698" stroke-width="1.15"/>
<line x1="443.40" y1="285.00" x2="452.20" y2="285.00" stroke="#D8A698" stroke-width="1.0"/>
<rect x="464.50" y="374.40" width="14.60" height="30.10" fill="#71A65A" stroke="#67994F" stroke-width="1"/>
<line x1="471.80" y1="372.60" x2="471.80" y2="373.90" stroke="#82B06C" stroke-width="1.15"/>
<line x1="467.40" y1="372.60" x2="476.20" y2="372.60" stroke="#82B06C" stroke-width="1.0"/>
<rect x="488.50" y="313.40" width="14.60" height="91.10" fill="#9CBC7E" stroke="#90B172" stroke-width="1"/>
<line x1="495.80" y1="310.60" x2="495.80" y2="312.90" stroke="#A8C48C" stroke-width="1.15"/>
<line x1="491.40" y1="310.60" x2="500.20" y2="310.60" stroke="#A8C48C" stroke-width="1.0"/>
<line x1="310.75" y1="404.50" x2="512.50" y2="404.50" stroke="#1c1c1c" stroke-width="1.1"/>
<line x1="327.80" y1="404.50" x2="327.80" y2="407.50" stroke="#333" stroke-width="1"/>
<line x1="351.80" y1="404.50" x2="351.80" y2="407.50" stroke="#333" stroke-width="1"/>
<line x1="375.80" y1="404.50" x2="375.80" y2="407.50" stroke="#333" stroke-width="1"/>
<line x1="399.80" y1="404.50" x2="399.80" y2="407.50" stroke="#333" stroke-width="1"/>
<line x1="423.80" y1="404.50" x2="423.80" y2="407.50" stroke="#333" stroke-width="1"/>
<line x1="447.80" y1="404.50" x2="447.80" y2="407.50" stroke="#333" stroke-width="1"/>
<line x1="471.80" y1="404.50" x2="471.80" y2="407.50" stroke="#333" stroke-width="1"/>
<line x1="495.80" y1="404.50" x2="495.80" y2="407.50" stroke="#333" stroke-width="1"/>
<text x="327.80" y="418.30" font-size="8.1" text-anchor="middle" fill="#303030" stroke="#303030" stroke-width="0.12" textLength="25.6" lengthAdjust="spacingAndGlyphs">vehicle</text>
<text x="351.80" y="418.30" font-size="8.1" text-anchor="middle" fill="#303030" stroke="#303030" stroke-width="0.12" textLength="16.4" lengthAdjust="spacingAndGlyphs">hFXI</text>
<text x="375.80" y="418.30" font-size="8.1" text-anchor="middle" fill="#303030" stroke="#303030" stroke-width="0.12" textLength="10.8" lengthAdjust="spacingAndGlyphs">1:3</text>
<text x="399.80" y="418.30" font-size="8.1" text-anchor="middle" fill="#303030" stroke="#303030" stroke-width="0.12" textLength="10.8" lengthAdjust="spacingAndGlyphs">3:1</text>
<text x="423.80" y="418.30" font-size="8.1" text-anchor="middle" fill="#303030" stroke="#303030" stroke-width="0.12" textLength="10.3" lengthAdjust="spacingAndGlyphs">1:1</text>
<text x="447.80" y="418.30" font-size="8.1" text-anchor="middle" fill="#303030" stroke="#303030" stroke-width="0.12" textLength="10.8" lengthAdjust="spacingAndGlyphs">1:3</text>
<text x="471.80" y="418.30" font-size="8.1" text-anchor="middle" fill="#303030" stroke="#303030" stroke-width="0.12" textLength="10.3" lengthAdjust="spacingAndGlyphs">1:1</text>
<text x="495.80" y="418.30" font-size="8.1" text-anchor="middle" fill="#303030" stroke="#303030" stroke-width="0.12" textLength="10.8" lengthAdjust="spacingAndGlyphs">1:3</text>
<line x1="366.70" y1="423.60" x2="384.90" y2="423.60" stroke="#3a3a3a" stroke-width="1.1"/>
<text x="376.10" y="433.90" font-size="8.1" text-anchor="middle" fill="#303030" stroke="#303030" stroke-width="0.12" textLength="16.6" lengthAdjust="spacingAndGlyphs">hFXI</text>
<text x="376.10" y="444.70" font-size="8.1" text-anchor="middle" fill="#303030" stroke="#303030" stroke-width="0.12" textLength="4.6" lengthAdjust="spacingAndGlyphs">+</text>
<text x="362.80" y="454.40" font-size="8.1" fill="#303030" stroke="#303030" stroke-width="0.12" textLength="11.80" lengthAdjust="spacingAndGlyphs">ctrl</text>
<text x="376.63" y="454.40" font-size="8.1" fill="#303030" stroke="#303030" stroke-width="0.12" textLength="12.01" lengthAdjust="spacingAndGlyphs">IgG</text>
<line x1="390.70" y1="423.60" x2="456.90" y2="423.60" stroke="#3a3a3a" stroke-width="1.1"/>
<text x="424.10" y="433.90" font-size="8.1" text-anchor="middle" fill="#303030" stroke="#303030" stroke-width="0.12" textLength="16.6" lengthAdjust="spacingAndGlyphs">hFXI</text>
<text x="424.10" y="444.70" font-size="8.1" text-anchor="middle" fill="#303030" stroke="#303030" stroke-width="0.12" textLength="4.6" lengthAdjust="spacingAndGlyphs">+</text>
<text x="423.80" y="454.40" font-size="8.1" text-anchor="middle" fill="#303030" stroke="#303030" stroke-width="0.12" textLength="31" lengthAdjust="spacingAndGlyphs">MAA868</text>
<line x1="462.70" y1="423.60" x2="504.90" y2="423.60" stroke="#3a3a3a" stroke-width="1.1"/>
<text x="484.10" y="433.90" font-size="8.1" text-anchor="middle" fill="#303030" stroke="#303030" stroke-width="0.12" textLength="16.6" lengthAdjust="spacingAndGlyphs">hFXI</text>
<text x="484.10" y="444.70" font-size="8.1" text-anchor="middle" fill="#303030" stroke="#303030" stroke-width="0.12" textLength="4.6" lengthAdjust="spacingAndGlyphs">+</text>
<text x="483.80" y="454.40" font-size="8.1" text-anchor="middle" fill="#303030" stroke="#303030" stroke-width="0.12" textLength="14" lengthAdjust="spacingAndGlyphs">DEF</text>
<text transform="translate(286.00,407.40) rotate(-90)" x="-0.91" y="0" font-size="12.5" fill="#111" stroke="#111" stroke-width="0.1" textLength="23.48" lengthAdjust="spacingAndGlyphs">MAb</text>
<text transform="translate(286.00,381.90) rotate(-90)" x="-0.71" y="0" font-size="12.5" fill="#111" stroke="#111" stroke-width="0.1" textLength="35.20" lengthAdjust="spacingAndGlyphs">plasma</text>
<text transform="translate(286.00,343.40) rotate(-90)" x="-0.52" y="0" font-size="12.5" fill="#111" stroke="#111" stroke-width="0.1" textLength="69.26" lengthAdjust="spacingAndGlyphs">concentration</text>
<text transform="translate(286.00,270.40) rotate(-90)" x="-0.80" y="0" font-size="12.5" fill="#111" stroke="#111" stroke-width="0.1" textLength="22.26" lengthAdjust="spacingAndGlyphs">[nM]</text>
<text x="274.50" y="247.00" font-size="16.5" text-anchor="middle" fill="#000" textLength="12" lengthAdjust="spacingAndGlyphs">D</text>
<rect x="0" y="0" width="520" height="1" fill="#000"/>
<rect x="0" y="0" width="1" height="464" fill="#000"/>
<rect x="0" y="463" width="518" height="1" fill="#000"/>
<rect x="518" y="1" width="2" height="463" fill="#6f6f6f"/>
</svg>
</body></html>
